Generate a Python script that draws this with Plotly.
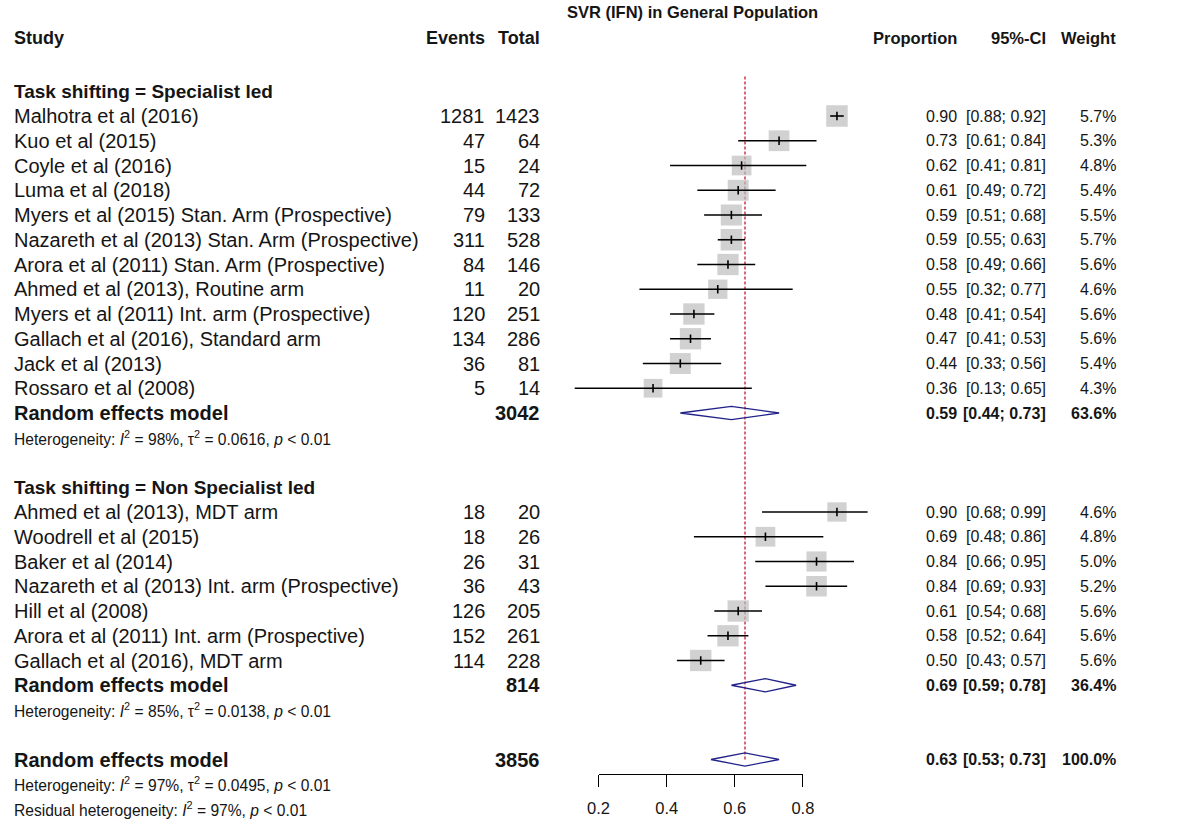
import math
import plotly.graph_objects as go

# ---------------- data ----------------
g1_label = "Task shifting = Specialist led"
g1_studies = [
    "Malhotra et al (2016)",
    "Kuo et al (2015)",
    "Coyle et al (2016)",
    "Luma et al (2018)",
    "Myers et al (2015) Stan. Arm (Prospective)",
    "Nazareth et al (2013) Stan. Arm (Prospective)",
    "Arora et al (2011) Stan. Arm (Prospective)",
    "Ahmed et al (2013), Routine arm",
    "Myers et al (2011) Int. arm (Prospective)",
    "Gallach et al (2016), Standard arm",
    "Jack et al (2013)",
    "Rossaro et al (2008)",
]
g1_events = [1281, 47, 15, 44, 79, 311, 84, 11, 120, 134, 36, 5]
g1_total = [1423, 64, 24, 72, 133, 528, 146, 20, 251, 286, 81, 14]
g1_prop = [0.90, 0.73, 0.62, 0.61, 0.59, 0.59, 0.58, 0.55, 0.48, 0.47, 0.44, 0.36]
g1_lower = [0.88, 0.61, 0.41, 0.49, 0.51, 0.55, 0.49, 0.32, 0.41, 0.41, 0.33, 0.13]
g1_upper = [0.92, 0.84, 0.81, 0.72, 0.68, 0.63, 0.66, 0.77, 0.54, 0.53, 0.56, 0.65]
g1_weight = [5.7, 5.3, 4.8, 5.4, 5.5, 5.7, 5.6, 4.6, 5.6, 5.6, 5.4, 4.3]

g2_label = "Task shifting = Non Specialist led"
g2_studies = [
    "Ahmed et al (2013), MDT arm",
    "Woodrell et al (2015)",
    "Baker et al (2014)",
    "Nazareth et al (2013) Int. arm (Prospective)",
    "Hill et al (2008)",
    "Arora et al (2011) Int. arm (Prospective)",
    "Gallach et al (2016), MDT arm",
]
g2_events = [18, 18, 26, 36, 126, 152, 114]
g2_total = [20, 26, 31, 43, 205, 261, 228]
g2_prop = [0.90, 0.69, 0.84, 0.84, 0.61, 0.58, 0.50]
g2_lower = [0.68, 0.48, 0.66, 0.69, 0.54, 0.52, 0.43]
g2_upper = [0.99, 0.86, 0.95, 0.93, 0.68, 0.64, 0.57]
g2_weight = [4.6, 4.8, 5.0, 5.2, 5.6, 5.6, 5.6]

# pooled (random effects) estimates: subgroup 1, subgroup 2, overall
pooled_total = [3042, 814, 3856]
pooled_prop = [0.59, 0.69, 0.63]
pooled_lower = [0.44, 0.59, 0.53]
pooled_upper = [0.73, 0.78, 0.73]
pooled_weight = ["63.6%", "36.4%", "100.0%"]

het_text = [
    "Heterogeneity: <i>I</i><sup>2</sup> = 98%, \u03c4<sup>2</sup> = 0.0616, <i>p</i> < 0.01",
    "Heterogeneity: <i>I</i><sup>2</sup> = 85%, \u03c4<sup>2</sup> = 0.0138, <i>p</i> < 0.01",
    "Heterogeneity: <i>I</i><sup>2</sup> = 97%, \u03c4<sup>2</sup> = 0.0495, <i>p</i> < 0.01",
]
resid_text = "Residual heterogeneity: <i>I</i><sup>2</sup> = 97%, <i>p</i> < 0.01"

title_text = "SVR (IFN) in General Population"
tick_vals = [0.2, 0.4, 0.6, 0.8]
tick_text = ["0.2", "0.4", "0.6", "0.8"]

# ---------------- page geometry ----------------
W, H = 1183, 829
X0, KX = 529.3, 347.0      # pixel of proportion 0, pixels per unit
Y0, KY = 116.0, 24.75      # pixel of first study row, pixels per row
FONT = "Liberation Sans, Arial, sans-serif"
FS_LEFT = 20               # study labels, events, totals
FS_GROUP = 19              # subgroup headings
FS_RIGHT = 16              # proportion, CI, weight
FS_HEAD_L = 18
FS_HEAD_R = 16.5
FS_SMALL = 15.6

# column anchors (paper pixels)
COL_STUDY = 2
COL_EVENTS = 484
COL_TOTAL = 540
COL_PROP = 965
COL_CI = 1056
COL_W = 1127


def fmt2(v):
    return f"{v:.2f}"


def ci_txt(lo, up):
    return f"[{fmt2(lo)}; {fmt2(up)}]"


# ---------------- row layout ----------------
rows_g1 = list(range(0, len(g1_studies)))
re1_row = rows_g1[-1] + 1
het1_row = re1_row + 1
g2_head_row = het1_row + 2
rows_g2 = list(range(g2_head_row + 1, g2_head_row + 1 + len(g2_studies)))
re2_row = rows_g2[-1] + 1
het2_row = re2_row + 1
re_all_row = het2_row + 2
het_all_row = re_all_row + 1
resid_row = het_all_row + 1
pooled_rows = [re1_row, re2_row, re_all_row]

studies = g1_studies + g2_studies
events = g1_events + g2_events
totals = g1_total + g2_total
props = g1_prop + g2_prop
lowers = g1_lower + g2_lower
uppers = g1_upper + g2_upper
weights = g1_weight + g2_weight
study_rows = rows_g1 + rows_g2

fig = go.Figure()

# weight-scaled grey boxes
fig.add_trace(go.Scatter(
    x=props, y=study_rows, mode="markers",
    marker=dict(symbol="square", color="#BEBEBE",
                size=[21.5 * math.sqrt(w / 5.7) for w in weights],
                line=dict(width=0)),
    hoverinfo="skip", showlegend=False))

# confidence interval whiskers
cx, cy = [], []
for lo, up, r in zip(lowers, uppers, study_rows):
    cx += [lo, up, None]
    cy += [r, r, None]
fig.add_trace(go.Scatter(x=cx, y=cy, mode="lines",
                         line=dict(color="black", width=1.6),
                         hoverinfo="skip", showlegend=False))

# short vertical mark at each point estimate
tx, ty = [], []
for p, r in zip(props, study_rows):
    tx += [p, p, None]
    ty += [r - 0.17, r + 0.17, None]
fig.add_trace(go.Scatter(x=tx, y=ty, mode="lines",
                         line=dict(color="black", width=1.6),
                         hoverinfo="skip", showlegend=False))

# pooled diamonds
for est, lo, up, r in zip(pooled_prop, pooled_lower, pooled_upper, pooled_rows):
    hh = 0.27
    fig.add_trace(go.Scatter(
        x=[lo, est, up, est, lo], y=[r, r - hh, r, r + hh, r],
        mode="lines", fill="toself", fillcolor="rgba(255,255,255,0)",
        line=dict(color="#22228A", width=1.3),
        hoverinfo="skip", showlegend=False))

# dummy trace for the bottom scale axis
fig.add_trace(go.Scatter(x=[None], y=[None], xaxis="x2", yaxis="y",
                         hoverinfo="skip", showlegend=False))

# overall-estimate reference line
fig.add_shape(type="line", xref="x", yref="y",
              x0=pooled_prop[2], x1=pooled_prop[2], y0=-1.6, y1=re_all_row,
              line=dict(color="#C8283C", width=1.4, dash="3px,2px"), layer="below")

ann = []


def add_text(txt, xpx, row, anchor="left", bold=False, size=FS_LEFT):
    if bold:
        txt = f"<b>{txt}</b>"
    ann.append(dict(text=txt, x=xpx / W, xref="paper", y=row, yref="y",
                    xanchor=anchor, yanchor="middle", showarrow=False,
                    borderpad=0,
                    font=dict(family=FONT, size=size, color="#151515")))


# title and header
HEAD_ROW = -3.15
add_text(title_text, 694, -4.2, anchor="center", bold=True, size=FS_HEAD_R)
add_text("Study", COL_STUDY, HEAD_ROW, bold=True, size=FS_HEAD_L)
add_text("Events", COL_EVENTS, HEAD_ROW, anchor="right", bold=True, size=FS_HEAD_L)
add_text("Total", COL_TOTAL, HEAD_ROW, anchor="right", bold=True, size=FS_HEAD_L)
add_text("Proportion", COL_PROP, HEAD_ROW, anchor="right", bold=True, size=FS_HEAD_R)
add_text("95%-CI", COL_CI, HEAD_ROW, anchor="right", bold=True, size=FS_HEAD_R)
add_text("Weight", COL_W, HEAD_ROW, anchor="right", bold=True, size=FS_HEAD_R)

# subgroup headings
add_text(g1_label, COL_STUDY, -1, bold=True, size=FS_GROUP)
add_text(g2_label, COL_STUDY, g2_head_row, bold=True, size=FS_GROUP)

# study rows
for s, e, n, p, lo, up, w, r in zip(studies, events, totals, props, lowers,
                                     uppers, weights, study_rows):
    add_text(s, COL_STUDY, r)
    add_text(str(e), COL_EVENTS, r, anchor="right")
    add_text(str(n), COL_TOTAL, r, anchor="right")
    add_text(fmt2(p), COL_PROP, r, anchor="right", size=FS_RIGHT)
    add_text(ci_txt(lo, up), COL_CI, r, anchor="right", size=FS_RIGHT)
    add_text(f"{w:.1f}%", COL_W, r, anchor="right", size=FS_RIGHT)

# pooled rows
for n, p, lo, up, w, r in zip(pooled_total, pooled_prop, pooled_lower,
                              pooled_upper, pooled_weight, pooled_rows):
    add_text("Random effects model", COL_STUDY, r, bold=True)
    add_text(str(n), COL_TOTAL, r, anchor="right", bold=True)
    add_text(fmt2(p), COL_PROP, r, anchor="right", bold=True, size=FS_RIGHT)
    add_text(ci_txt(lo, up), COL_CI, r, anchor="right", bold=True, size=FS_RIGHT)
    add_text(w, COL_W, r, anchor="right", bold=True, size=FS_RIGHT)

# heterogeneity statistics
for t, r in zip(het_text, [het1_row, het2_row, het_all_row]):
    add_text(t, COL_STUDY, r, size=FS_SMALL)
add_text(resid_text, COL_STUDY, resid_row, size=FS_SMALL)

fig.update_layout(
    width=W, height=H,
    margin=dict(l=0, r=0, t=0, b=0),
    paper_bgcolor="white", plot_bgcolor="rgba(0,0,0,0)",
    showlegend=False,
    annotations=ann,
    xaxis=dict(domain=[0, 1], range=[-X0 / KX, (W - X0) / KX], visible=False,
               fixedrange=True),
    yaxis=dict(domain=[0, 1], range=[(H - Y0) / KY, -Y0 / KY], visible=False,
               fixedrange=True),
    xaxis2=dict(domain=[(X0 + tick_vals[0] * KX) / W, (X0 + tick_vals[-1] * KX) / W],
                range=[tick_vals[0], tick_vals[-1]], anchor="free",
                position=1 - 774 / H, showline=True, linecolor="black",
                linewidth=1, ticks="outside", ticklen=12, tickwidth=1,
                tickcolor="black", tickvals=tick_vals, ticktext=tick_text,
                showgrid=False, zeroline=False, ticklabelstandoff=7,
                tickfont=dict(family=FONT, size=16.5, color="#151515"),
                fixedrange=True),
)

fig.write_html("out.html")
